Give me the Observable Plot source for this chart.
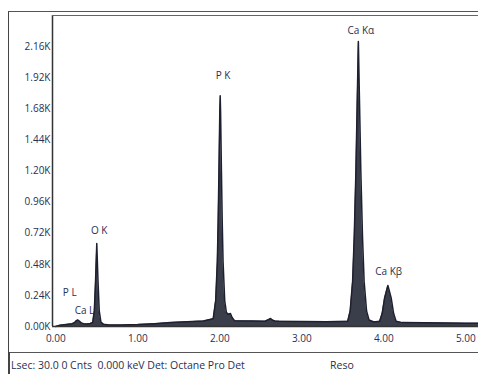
<!DOCTYPE html>
<html>
<head>
<meta charset="utf-8">
<script src="https://cdn.jsdelivr.net/npm/d3@7"></script>
<script src="https://cdn.jsdelivr.net/npm/@observablehq/plot@0.6"></script>
<style>
  html, body { margin: 0; padding: 0; background: #fff; }
  #wrap { position: relative; width: 478px; height: 376px; overflow: hidden; font-family: "Open Sans", "DejaVu Sans", sans-serif; }
  #box { position: absolute; left: 8px; top: 11px; width: 480px; height: 342px; border-left: 1.5px solid #444; border-top: 1.5px solid #555; border-bottom: 1.5px solid #555; box-sizing: border-box; }
  #leftext { position: absolute; left: 8px; top: 352px; width: 1.5px; height: 22px; background: #444; }
  #chart { position: absolute; left: 0; top: 0; }
  #foot { position: absolute; left: 11px; top: 358px; font-size: 10.5px; color: #2a3050; white-space: pre; }
  #reso { position: absolute; left: 330px; top: 358px; font-size: 10.5px; color: #2a3050; }
</style>
</head>
<body>
<div id="wrap">
  <div id="box"></div>
  <div id="leftext"></div>
  <div id="chart"></div>
  <div id="foot">Lsec: 30.0 0 Cnts  0.000 keV Det: Octane Pro Det</div>
  <div id="reso">Reso</div>
</div>
<script>
// Spectrum (energy in keV, counts)
const energy = [0.00,0.05,0.10,0.15,0.20,0.23,0.25,0.27,0.29,0.31,0.34,0.38,0.42,0.45,0.47,0.485,0.50,0.515,0.53,0.55,0.58,0.65,0.80,1.00,1.20,1.40,1.60,1.80,1.92,1.95,1.97,1.98,1.99,2.00,2.005,2.01,2.02,2.03,2.04,2.06,2.08,2.10,2.13,2.15,2.18,2.40,2.55,2.60,2.62,2.64,2.67,2.72,3.00,3.30,3.56,3.59,3.62,3.64,3.66,3.675,3.69,3.705,3.72,3.74,3.76,3.79,3.82,3.88,3.95,3.98,4.01,4.05,4.09,4.12,4.15,4.22,4.50,5.00,5.20];
const counts = [0,10,14,18,22,30,45,50,40,28,22,20,24,30,120,350,640,350,120,35,18,12,12,15,22,30,36,42,60,200,500,800,1200,1650,1780,1650,1200,800,500,200,110,95,100,70,45,42,40,55,62,50,42,40,38,36,40,120,350,700,1200,1700,2200,1700,1200,700,350,120,50,35,40,100,220,316,220,100,40,30,28,25,25];

// Tick values
const xTicks = [0, 1, 2, 3, 4, 5];
const yTicks = [0, 240, 480, 720, 960, 1200, 1440, 1680, 1920, 2160];

// Peak labels
const peakNames = ["P L", "Ca L", "O K", "P K", "Ca K\u03b1", "Ca K\u03b2"];
const peakE = [0.17, 0.35, 0.53, 2.04, 3.72, 4.06];
const peakC = [262, 123, 740, 1937, 2284, 424];

const spectrum = energy.map((e, i) => ({e, c: counts[i]}));
const labels = peakNames.map((n, i) => ({n, e: peakE[i], c: peakC[i]}));

const chart = Plot.plot({
  width: 478,
  height: 353,
  marginLeft: 52,
  marginRight: 0,
  marginTop: 15,
  marginBottom: 27,
  style: {fontFamily: "'Open Sans', 'DejaVu Sans', sans-serif", fontSize: "10px", color: "#2a3050", background: "transparent"},
  x: {domain: [-0.04, 5.155], ticks: xTicks, tickFormat: d => d.toFixed(2), tickSize: 0, tickPadding: 8, label: null},
  y: {domain: [0, 2400], ticks: yTicks, tickFormat: d => (d / 1000).toFixed(2) + "K", tickSize: 0, tickPadding: 2, label: null},
  marks: [
    Plot.areaY(spectrum, {x: "e", y: "c", fill: "#3a3d4a", curve: "linear"}),
    Plot.lineY(spectrum, {x: "e", y: "c", stroke: "#1e2030", strokeWidth: 1.5, curve: "linear"}),
    Plot.ruleX([-0.04], {stroke: "#333", strokeWidth: 1.5}),
    Plot.ruleY([0], {stroke: "#333", strokeWidth: 1.5}),
    Plot.ruleY([2400], {stroke: "#666", strokeWidth: 1}),
    Plot.text(labels, {x: "e", y: "c", text: "n", fontSize: 10, fill: "#2a3050"})
  ]
});
document.getElementById("chart").appendChild(chart);
</script>
</body>
</html>
